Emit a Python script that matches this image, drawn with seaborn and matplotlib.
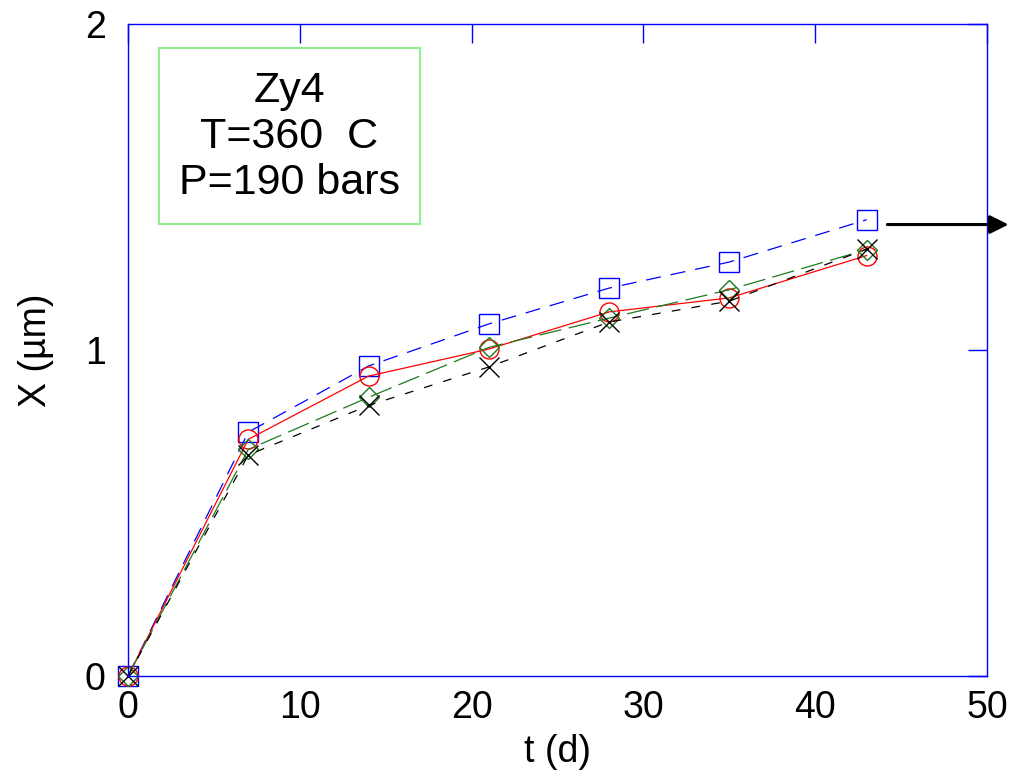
import numpy as np
import pandas as pd
import matplotlib
matplotlib.use("Agg")
import matplotlib.pyplot as plt
from matplotlib.patches import Rectangle
import seaborn as sns

# oxide thickness vs time, four runs
t_days = [0, 7, 14, 21, 28, 35, 43]
x_square = [0, 0.748, 0.951, 1.08, 1.19, 1.27, 1.40]
x_circle = [0, 0.726, 0.920, 1.003, 1.117, 1.160, 1.290]
x_diamond = [0, 0.695, 0.855, 1.008, 1.098, 1.185, 1.308]
x_cross = [0, 0.678, 0.830, 0.948, 1.086, 1.150, 1.310]

x_ticks = [0, 10, 20, 30, 40, 50]
y_ticks = [0, 1, 2]
box_text = "Zy4\nT=360  C\nP=190 bars"

sns.set_style("white")
plt.rcParams['font.family'] = ['Liberation Sans', 'DejaVu Sans']
plt.rcParams['text.color'] = 'black'
plt.rcParams['axes.labelcolor'] = 'black'
plt.rcParams['xtick.labelcolor'] = 'black'
plt.rcParams['ytick.labelcolor'] = 'black'

fig = plt.figure(figsize=(10.11, 7.77), dpi=100)
ax = fig.add_axes([0.1266, 0.13, 0.8497, 0.839])

series = [
    (x_square, "#0000ff", "s", 14.4, (0, (12, 8))),
    (x_circle, "#ff0000", "o", 13.7, "-"),
    (x_diamond, "#1e7a1e", "D", 9.7, (0, (18, 6))),
    (x_cross, "#000000", "x", 15, (0, (7, 9))),
]

for vals, col, mk, ms, ls in series:
    df = pd.DataFrame({"t": t_days, "x": vals})
    sns.lineplot(data=df, x="t", y="x", ax=ax, color=col, linewidth=0.9,
                 linestyle=ls, marker=mk, markersize=ms,
                 markerfacecolor="none", markeredgecolor=col,
                 markeredgewidth=1.0, clip_on=False)

ax.set_xlim(0, 50)
ax.set_ylim(0, 2)
ax.set_xticks(x_ticks)
ax.set_yticks(y_ticks)
ax.tick_params(direction="in", length=14, width=1, color="#0000ff",
               top=True, right=True, labelsize=27, labelcolor="black")
ax.tick_params(axis="x", pad=10)
ax.tick_params(axis="y", pad=16)
for s in ax.spines.values():
    s.set_color("#0000ff")
    s.set_linewidth(1.0)

ax.set_xlabel("t (d)", fontsize=27, labelpad=6, color="black")
ax.set_ylabel("X (µm)", fontsize=27, labelpad=22, color="black")

ax.add_patch(Rectangle((0.036, 0.693), 0.304, 0.27, transform=ax.transAxes,
                       fill=False, edgecolor="#90f090", linewidth=1.5))
ax.text(0.1875, 0.827, box_text, transform=ax.transAxes, ha="center",
        va="center", fontsize=31, linespacing=1.2, color="black")

ax.annotate("", xy=(51.25, 1.385), xytext=(44.2, 1.385),
            xycoords="data", annotation_clip=False,
            arrowprops=dict(arrowstyle="-|>", color="black", lw=2.2,
                            mutation_scale=28, shrinkA=0, shrinkB=0))

fig.savefig("out.png", dpi=100)
